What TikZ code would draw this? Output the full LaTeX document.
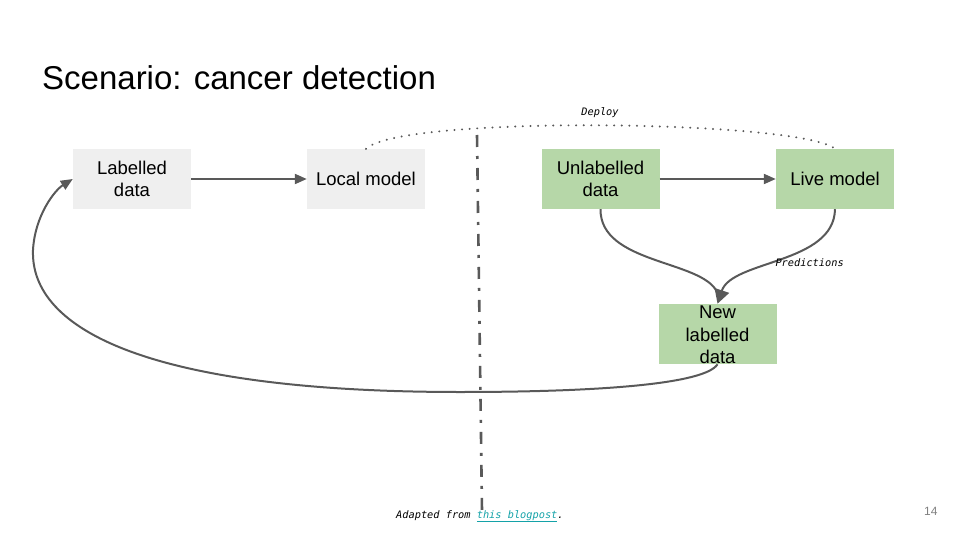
\documentclass[tikz,border=0pt]{standalone}
\usepackage{fontspec}
\setmainfont{Liberation Sans}
\newfontfamily\monoit{DejaVu Sans Mono}
\usetikzlibrary{arrows.meta}
\definecolor{boxgray}{HTML}{EFEFEF}
\definecolor{boxgreen}{HTML}{B6D7A8}
\definecolor{linegray}{HTML}{595959}
\definecolor{linkteal}{HTML}{14A2A8}
\tikzset{
  box/.style={minimum width=118pt, minimum height=60pt, inner sep=0pt, align=center, font=\fontsize{18.5}{22.5}\selectfont},
  graybox/.style={box, fill=boxgray},
  greenbox/.style={box, fill=boxgreen},
  conn/.style={draw=linegray, line width=2pt, -{Triangle[length=12pt,width=10pt]}},
  small/.style={font=\monoit\itshape\fontsize{10.3}{12}\selectfont},
}
\begin{document}
\begin{tikzpicture}[x=1pt,y=-1pt]
\useasboundingbox (0,0) rectangle (960,540);
\node[anchor=base west, inner sep=0pt, font=\fontsize{33}{38}\selectfont] (title) at (42,90) {Scenario: cancer detection};

\node[graybox] (lab) at (132,179) {Labelled\\data};
\node[graybox] (loc) at (366,179) {Local model};
\node[greenbox] (unl) at (600.5,179) {Unlabelled\\data};
\node[greenbox] (live) at (835,179) {Live model};
\node[greenbox] (new) at (717.5,334) {\rule{0pt}{15pt}New\\labelled\\data};

\draw[conn] (lab.east) -- (loc.west);
\draw[conn] (unl.east) -- (live.west);

\draw[draw=linegray, line width=2pt] (unl.south) .. controls (600,264) and (702,260) .. (717,292);
\draw[conn, -{Triangle[length=14pt,width=15pt]}] (live.south) .. controls (834,264) and (732,260) .. (new.north);
\node[small, anchor=west] (pred) at (772,263) {Predictions};

\draw[linegray, line width=2.2pt, dash pattern=on 0.01pt off 7.6pt, line cap=round] (loc.north) .. controls (400,115) and (800,120) .. (live.north);
\node[small] (deploy) at (600,113) {Deploy};

\draw[conn] (new.south) .. controls (705,384) and (600,392) .. (460,392)
  .. controls (150,392) and (30,330) .. (33,250)
  .. controls (35,215) and (55,190) .. (lab.west);

\coordinate (vtop) at (477,135);
\coordinate (vbot) at (482,511);
\draw[linegray, line width=2.6pt, dash pattern=on 12pt off 9pt on 3pt off 9pt] (vtop) -- (vbot);

\node[small, anchor=base west, inner sep=0pt] (foot) at (396,518) {Adapted from \textcolor{linkteal}{\underline{this blogpost}}.};
\node[anchor=base west, inner sep=0pt, text=gray, font=\fontsize{12}{14}\selectfont] (page) at (924,515) {14};
\end{tikzpicture}
\end{document}
